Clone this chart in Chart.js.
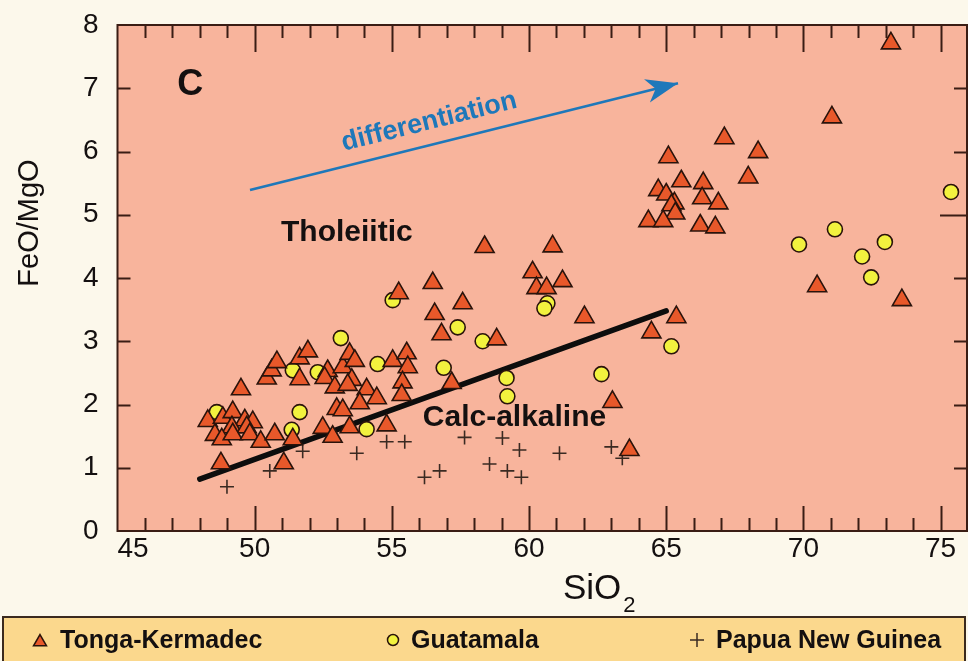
<!DOCTYPE html>
<html>
<head>
<meta charset="utf-8">
<script src="https://cdn.jsdelivr.net/npm/chart.js@4.4.1/dist/chart.umd.min.js"></script>
<style>
  html, body { margin: 0; padding: 0; background: #fcf8eb; }
  canvas { display: block; }
</style>
</head>
<body>
<canvas id="chart" width="968" height="661"></canvas>
<script>
// FeO/MgO vs SiO2 for three island-arc suites
const tongaSiO2 = [48.29, 48.84, 49.20, 49.64, 49.93, 49.17, 49.71, 48.55, 48.80, 49.20, 49.82, 50.22, 50.73, 51.39, 48.77, 51.06,
  49.50, 50.44, 50.62, 50.81, 51.64, 51.94, 51.64, 52.48, 52.84, 53.46, 52.66, 52.55, 52.92, 53.21, 53.46, 53.65, 53.54, 53.39,
  54.08, 54.45, 53.83, 52.99, 53.21, 55.03, 55.54, 55.58, 55.39, 55.36, 54.81, 55.25, 56.49, 57.58, 56.56, 56.81, 58.38, 60.86,
  60.13, 61.22, 60.27, 60.64, 58.82, 62.02, 64.46, 57.18, 63.04, 63.66, 65.37, 73.19, 71.04, 67.12, 68.35, 65.08, 67.99, 65.55,
  66.35, 64.71, 65.00, 66.31, 66.90, 65.30, 65.19, 65.33, 64.35, 64.89, 66.24, 66.79, 70.50, 73.59];
const tongaFeOMgO = [1.74, 1.79, 1.88, 1.75, 1.72, 1.64, 1.64, 1.52, 1.45, 1.53, 1.53, 1.41, 1.53, 1.45, 1.07, 1.07,
  2.24, 2.41, 2.54, 2.67, 2.73, 2.84, 2.40, 1.63, 1.49, 1.64, 2.53, 2.42, 2.27, 2.59, 2.80, 2.69, 2.39, 2.31,
  2.24, 2.10, 2.02, 1.93, 1.91, 2.69, 2.81, 2.59, 2.35, 2.15, 1.67, 3.76, 3.92, 3.60, 3.43, 3.11, 4.49, 4.50,
  4.09, 3.95, 3.84, 3.84, 3.03, 3.38, 3.14, 2.34, 2.04, 1.28, 3.38, 7.71, 6.54, 6.21, 5.99, 5.91, 5.59, 5.53,
  5.50, 5.39, 5.32, 5.26, 5.18, 5.18, 5.15, 5.02, 4.90, 4.90, 4.83, 4.80, 3.87, 3.65];

const guatemalaSiO2 = [48.62, 51.35, 51.64, 51.39, 52.30, 53.14, 54.48, 54.08, 55.03, 57.40, 58.31, 56.89, 59.18, 59.21,
  62.64, 60.67, 60.56, 65.19, 75.38, 71.15, 69.84, 72.97, 72.14, 72.47];
const guatemalaFeOMgO = [1.88, 1.60, 1.88, 2.54, 2.51, 3.05, 2.64, 1.61, 3.65, 3.22, 3.00, 2.58, 2.42, 2.13,
  2.48, 3.60, 3.52, 2.92, 5.36, 4.77, 4.53, 4.57, 4.34, 4.01];

const pngSiO2 = [48.99, 50.55, 51.75, 53.72, 54.81, 55.47, 56.19, 56.74, 57.65, 59.03, 59.65, 61.11, 58.56, 59.21, 59.72, 63.00, 63.40];
const pngFeOMgO = [0.70, 0.95, 1.26, 1.23, 1.41, 1.41, 0.85, 0.95, 1.48, 1.47, 1.28, 1.23, 1.06, 0.95, 0.85, 1.33, 1.15];

// Tholeiitic / calc-alkaline dividing line and the differentiation trend arrow
const dividerSiO2 = [48.0, 65.0];
const dividerFeOMgO = [0.82, 3.48];
const trendSiO2 = [49.83, 65.43];
const trendFeOMgO = [5.39, 7.08];

const seriesNames = ['Tonga-Kermadec', 'Guatamala', 'Papua New Guinea'];
const xTicks = [45, 50, 55, 60, 65, 70, 75];
const yTicks = [0, 1, 2, 3, 4, 5, 6, 7, 8];
const X_MIN = 45, X_MAX = 76;

const toPoints = (xs, ys) => xs.map((x, i) => ({ x, y: ys[i] }));

const FONT = '"Liberation Sans", Arial, Helvetica, sans-serif';
const INK = '#141010';
const FRAME = '#3a1d14';
const PLOT_BG = '#f8b49c';
const PAGE_BG = '#fcf8eb';
const LEGEND_BG = '#fbd88d';
const TRI_FILL = '#e8582a';
const CIRC_FILL = '#f2f23e';
const MARK_EDGE = '#2a130b';
const BLUE = '#1e78ba';

const backdrop = {
  id: 'backdrop',
  beforeDraw(chart) {
    const { ctx, chartArea: a } = chart;
    ctx.save();
    ctx.fillStyle = PAGE_BG;
    ctx.fillRect(0, 0, chart.width, chart.height);
    ctx.fillStyle = PLOT_BG;
    ctx.fillRect(a.left, a.top, a.right - a.left, a.bottom - a.top);
    ctx.restore();
  }
};

function trendPixels(chart) {
  const { x, y } = chart.scales;
  return {
    x0: x.getPixelForValue(trendSiO2[0]), y0: y.getPixelForValue(trendFeOMgO[0]),
    x1: x.getPixelForValue(trendSiO2[1]), y1: y.getPixelForValue(trendFeOMgO[1])
  };
}

const frameTicks = {
  id: 'frameTicks',
  beforeDatasetsDraw(chart) {
    const { ctx, chartArea: a, scales: { x, y } } = chart;
    ctx.save();
    ctx.strokeStyle = FRAME;
    ctx.lineWidth = 2;
    ctx.beginPath();
    for (let v = 46; v <= 75; v++) {
      const px = Math.round(x.getPixelForValue(v)) + 0.5;
      const major = v % 5 === 0;
      ctx.moveTo(px, a.bottom); ctx.lineTo(px, a.bottom - (major ? 25 : 13));
      ctx.moveTo(px, a.top); ctx.lineTo(px, a.top + (major ? 27 : 13));
    }
    for (let v = 1; v <= 7; v++) {
      const py = Math.round(y.getPixelForValue(v)) + 0.5;
      ctx.moveTo(a.left, py); ctx.lineTo(a.left + 13, py);
      ctx.moveTo(a.right, py); ctx.lineTo(a.right - (v === 5 ? 28 : 14), py);
    }
    ctx.stroke();
    ctx.strokeRect(a.left, a.top, a.right - a.left - 1, a.bottom - a.top);

    // field labels
    ctx.fillStyle = INK;
    ctx.textAlign = 'center';
    ctx.textBaseline = 'middle';
    ctx.font = 'bold 36px ' + FONT;
    ctx.fillText('C', x.getPixelForValue(47.65), y.getPixelForValue(7.05));
    ctx.font = 'bold 30px ' + FONT;
    ctx.fillText('Tholeiitic', x.getPixelForValue(53.36), y.getPixelForValue(4.71));
    ctx.fillText('Calc-alkaline', x.getPixelForValue(59.47), y.getPixelForValue(1.79));

    // trend label, rotated along the arrow
    const t = trendPixels(chart);
    ctx.save();
    ctx.translate(x.getPixelForValue(56.36), y.getPixelForValue(6.47));
    ctx.rotate(Math.atan2(t.y1 - t.y0, t.x1 - t.x0));
    ctx.fillStyle = BLUE;
    ctx.font = 'bold 27px ' + FONT;
    ctx.fillText('differentiation', 0, 0);
    ctx.restore();

    // y-axis title, set high beside the scale
    ctx.save();
    ctx.translate(30, 223);
    ctx.rotate(-Math.PI / 2);
    ctx.fillStyle = INK;
    ctx.font = '29px ' + FONT;
    ctx.fillText('FeO/MgO', 0, 0);
    ctx.restore();

    // x-axis title with subscript
    ctx.textAlign = 'left';
    ctx.textBaseline = 'alphabetic';
    ctx.fillStyle = INK;
    ctx.font = '35px ' + FONT;
    const base = 'SiO';
    ctx.fillText(base, 563, 599);
    const w = ctx.measureText(base).width;
    ctx.font = '22px ' + FONT;
    ctx.fillText('2', 563 + w + 2, 612);
    ctx.restore();
  },
  afterDatasetsDraw(chart) {
    const { ctx } = chart;
    const t = trendPixels(chart);
    ctx.save();
    ctx.translate(t.x1, t.y1);
    ctx.rotate(Math.atan2(t.y1 - t.y0, t.x1 - t.x0));
    ctx.beginPath();
    ctx.moveTo(0, 0);
    ctx.lineTo(-32, -12);
    ctx.lineTo(-23, 0);
    ctx.lineTo(-32, 12);
    ctx.closePath();
    ctx.fillStyle = BLUE;
    ctx.fill();
    ctx.restore();
  },
  afterDraw(chart) {
    const { ctx } = chart;
    const top = 617, h = 46, cy = 640;
    ctx.save();
    ctx.fillStyle = LEGEND_BG;
    ctx.fillRect(3, top, 962, h);
    ctx.strokeStyle = '#3b2a1e';
    ctx.lineWidth = 2;
    ctx.strokeRect(3, top, 962, h);

    const items = [
      { mx: 40, tx: 60, ds: 0, r: 7.5, dy: 2 },
      { mx: 393, tx: 411, ds: 1, r: 5.5, dy: 0 },
      { mx: 697, tx: 716, ds: 2, r: 7, dy: 0 }
    ];
    items.forEach(it => {
      const d = chart.data.datasets[it.ds];
      ctx.fillStyle = d.backgroundColor;
      ctx.strokeStyle = d.borderColor;
      ctx.lineWidth = 1.5;
      Chart.helpers.drawPoint(ctx, { pointStyle: d.pointStyle, radius: it.r, borderWidth: 1.5 }, it.mx, cy + it.dy);
      ctx.fillStyle = INK;
      ctx.font = 'bold 25px ' + FONT;
      ctx.textBaseline = 'middle';
      ctx.textAlign = 'left';
      ctx.fillText(d.label, it.tx, cy + 1);
    });
    ctx.restore();
  }
};

new Chart(document.getElementById('chart'), {
  type: 'scatter',
  data: {
    datasets: [
      {
        label: seriesNames[0],
        data: toPoints(tongaSiO2, tongaFeOMgO),
        pointStyle: 'triangle',
        pointRadius: 11,
        pointHoverRadius: 11,
        backgroundColor: TRI_FILL,
        borderColor: MARK_EDGE,
        borderWidth: 1.6
      },
      {
        label: seriesNames[1],
        data: toPoints(guatemalaSiO2, guatemalaFeOMgO),
        pointStyle: 'circle',
        pointRadius: 7.5,
        pointHoverRadius: 7.5,
        backgroundColor: CIRC_FILL,
        borderColor: MARK_EDGE,
        borderWidth: 1.6
      },
      {
        label: seriesNames[2],
        data: toPoints(pngSiO2, pngFeOMgO),
        pointStyle: 'cross',
        pointRadius: 7,
        pointHoverRadius: 7,
        backgroundColor: '#3a2a22',
        borderColor: '#3a2a22',
        borderWidth: 1.6
      },
      {
        type: 'line',
        label: 'divider',
        data: toPoints(dividerSiO2, dividerFeOMgO),
        borderColor: '#0d0d0d',
        borderWidth: 5.5,
        borderCapStyle: 'round',
        pointRadius: 0,
        fill: false
      },
      {
        type: 'line',
        label: 'trend',
        data: toPoints(trendSiO2, trendFeOMgO),
        borderColor: BLUE,
        borderWidth: 2.6,
        pointRadius: 0,
        fill: false
      }
    ]
  },
  options: {
    responsive: false,
    animation: false,
    events: [],
    layout: { autoPadding: false, padding: { top: 25, right: 0, bottom: 44, left: 0 } },
    plugins: {
      legend: { display: false },
      tooltip: { enabled: false }
    },
    scales: {
      x: {
        type: 'linear',
        min: X_MIN,
        max: X_MAX,
        grid: { display: false, drawTicks: false },
        border: { display: false },
        // the unlabeled upper bound keeps the frame running to the right edge
        afterBuildTicks: s => { s.ticks = xTicks.concat([X_MAX]).map(v => ({ value: v })); },
        afterFit: s => { s.height = 86; s.paddingLeft = 0; s.paddingRight = 0; },
        ticks: {
          autoSkip: false,
          maxRotation: 0,
          padding: 1,
          color: INK,
          font: { family: FONT, size: 28 },
          callback: v => (v === 45 ? '\u2007\u200745' : (v % 5 === 0 ? String(v) : ''))
        },
        title: { display: false }
      },
      y: {
        type: 'linear',
        min: 0,
        max: 8,
        grid: { display: false, drawTicks: false },
        border: { display: false },
        afterBuildTicks: s => { s.ticks = yTicks.map(v => ({ value: v })); },
        afterFit: s => { s.width = 117.5; s.paddingTop = 0; s.paddingBottom = 0; },
        ticks: {
          padding: 19,
          color: INK,
          font: { family: FONT, size: 28 }
        },
        title: { display: false }
      }
    }
  },
  plugins: [backdrop, frameTicks]
});
</script>
</body>
</html>
